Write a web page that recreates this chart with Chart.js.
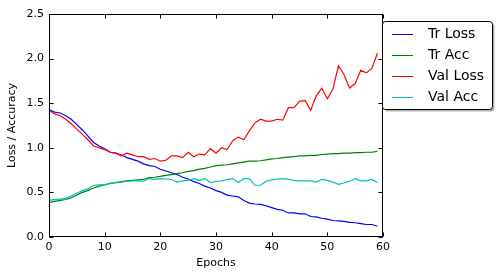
<!DOCTYPE html>
<html>
<head>
<meta charset="utf-8">
<script src="https://cdn.jsdelivr.net/npm/chart.js@4.4.0/dist/chart.umd.min.js"></script>
<style>
  html, body { margin: 0; padding: 0; background: #fff; }
  #wrap { width: 500px; height: 279px; }
</style>
</head>
<body>
<div id="wrap"><canvas id="grafico"></canvas></div>
<script>
// dados
const epochs = [0, 1, 2, 3, 4, 5, 6, 7, 8, 9, 10, 11, 12, 13, 14, 15, 16, 17, 18, 19,
  20, 21, 22, 23, 24, 25, 26, 27, 28, 29, 30, 31, 32, 33, 34, 35, 36, 37, 38, 39,
  40, 41, 42, 43, 44, 45, 46, 47, 48, 49, 50, 51, 52, 53, 54, 55, 56, 57, 58, 59];

const trLoss = [1.43, 1.40, 1.39, 1.36, 1.32, 1.26, 1.20, 1.13, 1.06, 1.02,
  0.99, 0.95, 0.94, 0.92, 0.89, 0.87, 0.85, 0.82, 0.80, 0.79,
  0.76, 0.74, 0.72, 0.70, 0.67, 0.65, 0.62, 0.60, 0.57, 0.55,
  0.52, 0.50, 0.47, 0.46, 0.45, 0.41, 0.38, 0.37, 0.365, 0.35,
  0.33, 0.31, 0.30, 0.27, 0.27, 0.26, 0.26, 0.23, 0.225, 0.21,
  0.20, 0.185, 0.18, 0.175, 0.165, 0.16, 0.15, 0.14, 0.14, 0.12];

const trAcc = [0.385, 0.40, 0.41, 0.42, 0.44, 0.47, 0.50, 0.52, 0.55, 0.57,
  0.585, 0.60, 0.61, 0.62, 0.63, 0.635, 0.64, 0.645, 0.665, 0.67,
  0.68, 0.69, 0.70, 0.71, 0.72, 0.735, 0.745, 0.76, 0.77, 0.785,
  0.80, 0.805, 0.81, 0.82, 0.83, 0.84, 0.85, 0.85, 0.855, 0.865,
  0.875, 0.88, 0.89, 0.895, 0.90, 0.91, 0.91, 0.915, 0.915, 0.925,
  0.93, 0.935, 0.935, 0.94, 0.94, 0.945, 0.945, 0.95, 0.95, 0.96];

const valLoss = [1.42, 1.38, 1.36, 1.32, 1.27, 1.21, 1.15, 1.09, 1.02, 1.00,
  0.98, 0.95, 0.94, 0.91, 0.94, 0.92, 0.90, 0.90, 0.87, 0.88,
  0.85, 0.86, 0.91, 0.91, 0.89, 0.95, 0.90, 0.93, 0.92, 0.99,
  0.94, 1.00, 0.98, 1.08, 1.12, 1.09, 1.19, 1.28, 1.32, 1.30,
  1.30, 1.32, 1.31, 1.45, 1.45, 1.52, 1.53, 1.42, 1.58, 1.67,
  1.55, 1.66, 1.92, 1.82, 1.67, 1.72, 1.87, 1.84, 1.89, 2.06];

const valAcc = [0.41, 0.42, 0.425, 0.43, 0.46, 0.49, 0.52, 0.54, 0.58, 0.585,
  0.585, 0.605, 0.61, 0.615, 0.625, 0.63, 0.63, 0.625, 0.655, 0.645,
  0.655, 0.65, 0.645, 0.615, 0.63, 0.635, 0.655, 0.635, 0.655, 0.61,
  0.625, 0.63, 0.645, 0.655, 0.61, 0.655, 0.655, 0.58, 0.58, 0.625,
  0.64, 0.65, 0.655, 0.645, 0.635, 0.63, 0.63, 0.63, 0.615, 0.645,
  0.635, 0.615, 0.59, 0.605, 0.625, 0.655, 0.63, 0.63, 0.645, 0.61];

const seriesNames = ['Tr Loss', 'Tr Acc', 'Val Loss', 'Val Acc'];
const xTicks = [0, 10, 20, 30, 40, 50, 60];
const yTicks = [0.0, 0.5, 1.0, 1.5, 2.0, 2.5];

const fonte = 'DejaVu Sans';

function pontos(valores) {
    return epochs.map((e, i) => ({ x: e, y: valores[i] }));
}

// moldura e ticks para dentro, estilo matplotlib
const molduraPlugin = {
    id: 'moldura',
    afterDatasetsDraw(chart) {
        const { ctx, chartArea: a, scales } = chart;
        const L = Math.round(a.left) + 0.5, R = Math.round(a.right) - 0.5;
        const T = Math.round(a.top) + 0.5, B = Math.round(a.bottom) - 0.5;
        ctx.save();
        ctx.strokeStyle = '#000';
        ctx.lineWidth = 1;
        ctx.strokeRect(L, T, R - L, B - T);
        ctx.beginPath();
        xTicks.forEach(v => {
            const px = Math.round(scales.x.getPixelForValue(v)) + 0.5;
            ctx.moveTo(px, B); ctx.lineTo(px, B - 4);
            ctx.moveTo(px, T); ctx.lineTo(px, T + 4);
        });
        yTicks.forEach(v => {
            const py = Math.round(scales.y.getPixelForValue(v)) + 0.5;
            ctx.moveTo(L, py); ctx.lineTo(L + 4, py);
            ctx.moveTo(R, py); ctx.lineTo(R - 4, py);
        });
        ctx.stroke();
        ctx.restore();
    }
};

// legenda fora do gráfico, com sombra
const legendaPlugin = {
    id: 'legenda',
    afterDraw(chart) {
        const ctx = chart.ctx;
        const bx = 382.5, by = 21.5, bw = 110, bh = 88, r = 3;
        function caixa(x, y) {
            ctx.beginPath();
            ctx.moveTo(x + r, y);
            ctx.lineTo(x + bw - r, y);
            ctx.arcTo(x + bw, y, x + bw, y + r, r);
            ctx.lineTo(x + bw, y + bh - r);
            ctx.arcTo(x + bw, y + bh, x + bw - r, y + bh, r);
            ctx.lineTo(x + r, y + bh);
            ctx.arcTo(x, y + bh, x, y + bh - r, r);
            ctx.lineTo(x, y + r);
            ctx.arcTo(x, y, x + r, y, r);
            ctx.closePath();
        }
        ctx.save();
        caixa(bx + 2, by + 2);
        ctx.fillStyle = 'rgba(0,0,0,0.3)';
        ctx.fill();
        caixa(bx, by);
        ctx.fillStyle = '#fff';
        ctx.fill();
        ctx.strokeStyle = '#000';
        ctx.lineWidth = 1;
        ctx.stroke();

        ctx.font = '14px "' + fonte + '"';
        ctx.textBaseline = 'middle';
        ctx.textAlign = 'left';
        chart.data.datasets.forEach((ds, i) => {
            const y = Math.round(33.5 + i * 21) + 0.5;
            ctx.strokeStyle = ds.borderColor;
            ctx.beginPath();
            ctx.moveTo(392, y);
            ctx.lineTo(413, y);
            ctx.stroke();
            ctx.fillStyle = '#000';
            ctx.fillText(ds.label, 428, y);
        });
        ctx.restore();
    }
};

const cores = ['#0000ff', '#008000', '#ff0000', '#00bfbf'];
const valores = [trLoss, trAcc, valLoss, valAcc];

new Chart(document.getElementById('grafico').getContext('2d'), {
    type: 'line',
    data: {
        datasets: valores.map((v, i) => ({
            label: seriesNames[i],
            data: pontos(v),
            borderColor: cores[i],
            backgroundColor: cores[i],
            borderWidth: 1.2,
            pointRadius: 0,
            tension: 0,
            fill: false,
            order: 4 - i
        }))
    },
    options: {
        responsive: true,
        maintainAspectRatio: false,
        animation: false,
        layout: { padding: { top: 14, right: 117, left: 0, bottom: 0 } },
        plugins: {
            legend: { display: false },
            tooltip: { enabled: false }
        },
        scales: {
            x: {
                type: 'linear',
                min: 0,
                max: 60,
                afterFit(scale) { scale.height = 42; },
                afterBuildTicks(scale) { scale.ticks = xTicks.map(v => ({ value: v })); },
                grid: { display: false, drawTicks: false },
                border: { display: false },
                ticks: {
                    color: '#000',
                    padding: 4,
                    maxRotation: 0,
                    font: { family: fonte, size: 11 }
                },
                title: {
                    display: true,
                    text: 'Epochs',
                    color: '#000',
                    font: { family: fonte, size: 11 },
                    padding: { top: 2, bottom: 9 }
                }
            },
            y: {
                min: 0,
                max: 2.5,
                afterFit(scale) { scale.width = 49; },
                afterBuildTicks(scale) { scale.ticks = yTicks.map(v => ({ value: v })); },
                grid: { display: false, drawTicks: false },
                border: { display: false },
                ticks: {
                    color: '#000',
                    padding: 5,
                    font: { family: fonte, size: 11 },
                    callback: v => v.toFixed(1)
                },
                title: {
                    display: true,
                    text: 'Loss / Accuracy',
                    color: '#000',
                    font: { family: fonte, size: 11 },
                    padding: { top: 6, bottom: 0 }
                }
            }
        }
    },
    plugins: [molduraPlugin, legendaPlugin]
});
</script>
</body>
</html>
